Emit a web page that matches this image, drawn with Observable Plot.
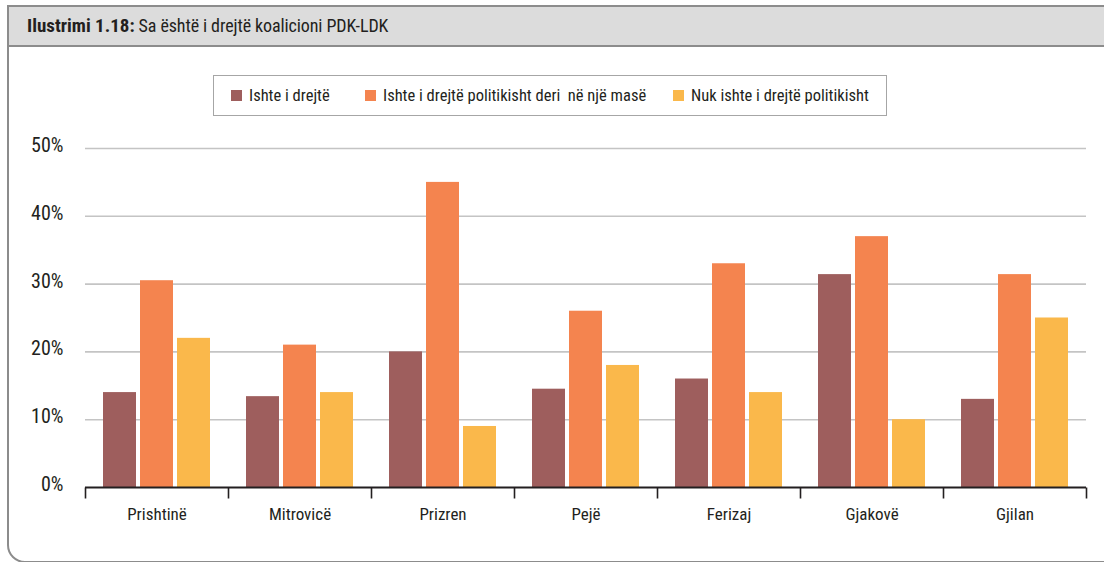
<!DOCTYPE html>
<html><head><meta charset="utf-8">
<script src="https://cdn.jsdelivr.net/npm/d3@7"></script>
<script src="https://cdn.jsdelivr.net/npm/@observablehq/plot@0.6"></script>
<style>
html,body{margin:0;padding:0;background:#fff;}
body{font-family:"Liberation Sans Narrow","Roboto Condensed","DejaVu Sans",sans-serif;font-stretch:condensed;color:#231f20;}
#wrap{position:relative;width:1104px;height:562px;overflow:hidden;}
#box{position:absolute;left:7px;top:5px;width:1120px;height:558px;border:2px solid #8c8c8c;border-radius:0 0 0 18px;box-sizing:border-box;}
#titlebar{position:absolute;left:9px;top:7px;width:1100px;height:38px;background:#dcdcdc;border-bottom:2px solid #8c8c8c;}
#title{position:absolute;left:27px;top:14px;font-size:18px;white-space:pre;line-height:24px;letter-spacing:-0.1px;}
#title b{font-weight:bold;font-size:19px;letter-spacing:0;}
#legend{position:absolute;left:213px;top:75px;width:674px;height:41px;border:1px solid #a6a6a6;box-sizing:border-box;}
.li{position:absolute;top:0;height:39px;display:flex;align-items:center;font-size:16.5px;white-space:pre;}
.sw{width:11px;height:11px;margin-right:7px;}
#chart{position:absolute;left:0;top:125px;}
#chart svg text{font-stretch:condensed;}
</style></head>
<body>
<div id="wrap">
  <div id="box"></div>
  <div id="titlebar"></div>
  <div id="title"><b>Ilustrimi 1.18:</b> Sa është i drejtë koalicioni PDK-LDK</div>
  <div id="legend"></div>
  <div id="chart"></div>
</div>
<script>
const cities = ["Prishtinë","Mitrovicë","Prizren","Pejë","Ferizaj","Gjakovë","Gjilan"];
const series = ["Ishte i drejtë","Ishte i drejtë politikisht deri  në një masë","Nuk ishte i drejtë politikisht"];
const colors = ["#9e5e5d","#f4844f","#fab84b"];
const drejte = [14, 13.4, 20, 14.5, 16, 31.4, 13];
const deriNeMase = [30.5, 21, 45, 26, 33, 37, 31.4];
const nukIshte = [22, 14, 9, 18, 14, 10, 25];
const yTicks = [0, 10, 20, 30, 40, 50];

const valueSets = [drejte, deriNeMase, nukIshte];
const rows = [];
cities.forEach((c, i) => series.forEach((s, j) => rows.push({city: c, series: s, value: valueSets[j][i]})));

// legend
const legendLefts = [17, 151, 459];
const legend = d3.select("#legend");
series.forEach((s, j) => {
  const item = legend.append("div").attr("class", "li").style("left", legendLefts[j] + "px");
  item.append("div").attr("class", "sw").style("background", colors[j]);
  item.append("span").text(s);
});

const tickSymbol = {draw(ctx) { ctx.moveTo(0, 0); ctx.lineTo(0, 11); }};
const font = '"Liberation Sans Narrow","Roboto Condensed","DejaVu Sans",sans-serif';

const chart = Plot.plot({
  width: 1104,
  height: 430,
  marginTop: 23,
  marginBottom: 68,
  marginLeft: 82,
  marginRight: 15,
  style: {fontFamily: font, fontSize: "18px", color: "#231f20", background: "transparent"},
  fx: {domain: cities, padding: 0, label: null},
  x: {domain: series, paddingInner: 0.108, paddingOuter: 0.486, axis: null},
  y: {domain: [0, 50], label: null},
  color: {domain: series, range: colors},
  marks: [
    Plot.gridY(yTicks.slice(1), {stroke: "#c4c4c4", strokeOpacity: 1, strokeWidth: 1.6}),
    Plot.barY(rows, {fx: "city", x: "series", y: "value", fill: "series"}),
    Plot.ruleY([0], {stroke: "#231f20", strokeWidth: 2}),
    Plot.dot(cities, {fx: d => d, frameAnchor: "bottom-left", symbol: tickSymbol, fill: "none", stroke: "#231f20", strokeWidth: 1.6}),
    Plot.dot([cities[cities.length - 1]], {fx: d => d, frameAnchor: "bottom-right", symbol: tickSymbol, fill: "none", stroke: "#231f20", strokeWidth: 1.6}),
    Plot.axisY({ticks: yTicks, tickFormat: d => d + "%", tickSize: 0, tickPadding: 22, fontSize: 20, dy: -3, label: null}),
    Plot.axisFx({anchor: "bottom", tickSize: 0, tickPadding: 20, fontSize: 17, label: null})
  ]
});
document.getElementById("chart").appendChild(chart);
</script>
</body></html>
